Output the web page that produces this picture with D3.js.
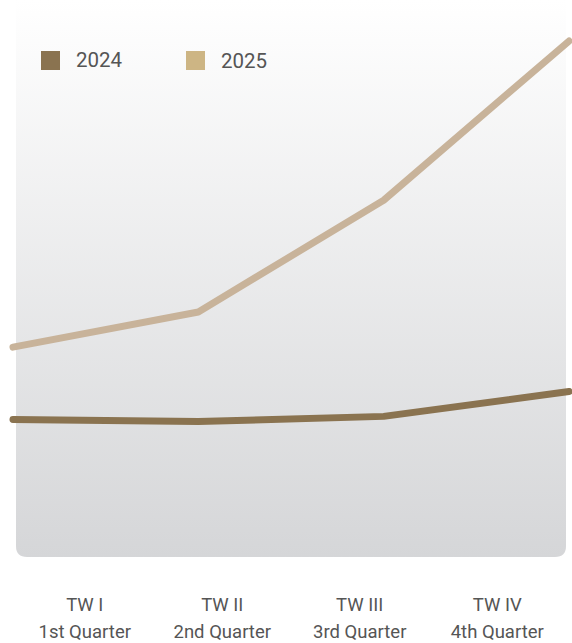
<!DOCTYPE html>
<html>
<head>
<meta charset="utf-8">
<script src="https://cdn.jsdelivr.net/npm/d3@7"></script>
<style>
  html, body { margin: 0; padding: 0; background: #fff; }
  svg { display: block; font-family: Roboto, "Noto Sans", sans-serif; }
</style>
</head>
<body>
<div class="canvas"></div>
<script>
const quarters = ['TW I', 'TW II', 'TW III', 'TW IV']
const quarterNames = ['1st Quarter', '2nd Quarter', '3rd Quarter', '4th Quarter']
const years = ['2024', '2025']
const values2024 = [133, 131, 136, 160]
const values2025 = [203, 237, 345, 499]
const colors = ['#8a7350', '#c8b39a']
const legendColors = ['#8a7350', '#cdb584']

const width = 572
const height = 643
const panel = {left: 16, right: 566, top: 0, bottom: 557}

const svg = d3.select('.canvas')
  .append('svg')
  .attr('width', width)
  .attr('height', height)

const defs = svg.append('defs')
const grad = defs.append('linearGradient')
  .attr('id', 'bg')
  .attr('x1', 0).attr('y1', 0).attr('x2', 0).attr('y2', 1)
grad.append('stop').attr('offset', '0%').attr('stop-color', '#ffffff')
grad.append('stop').attr('offset', '100%').attr('stop-color', '#d5d6d8')

// panel with rounded bottom corners
const r = 11
svg.append('path')
  .attr('fill', 'url(#bg)')
  .attr('d', `M${panel.left},${panel.top} H${panel.right} V${panel.bottom - r}
    Q${panel.right},${panel.bottom} ${panel.right - r},${panel.bottom}
    H${panel.left + r} Q${panel.left},${panel.bottom} ${panel.left},${panel.bottom - r} Z`)

const x = d3.scalePoint()
  .domain(quarters)
  .range([13, 569])

const y = d3.scaleLinear()
  .domain([0, 500])
  .range([557, 40])

const labelScale = d3.scaleBand()
  .domain(quarters)
  .range([panel.left, panel.right])

const line = d3.line()
  .x((d, i) => x(quarters[i]))
  .y(d => y(d))

const series = [values2024, values2025]
svg.selectAll('path.series')
  .data(series.slice().reverse())
  .enter().append('path')
  .attr('class', 'series')
  .attr('d', line)
  .attr('fill', 'none')
  .attr('stroke', (d, i) => colors[1 - i])
  .attr('stroke-width', 7)
  .attr('stroke-linecap', 'round')
  .attr('stroke-linejoin', 'round')

// legend
const legend = svg.append('g')
const legendX = [41, 186]
years.forEach((yr, i) => {
  legend.append('rect')
    .attr('x', legendX[i])
    .attr('y', 51)
    .attr('width', 19)
    .attr('height', 19)
    .attr('fill', legendColors[i])
  legend.append('text')
    .attr('x', legendX[i] + 35)
    .attr('y', 67 + i * 1)
    .attr('font-size', 20.5)
    .attr('fill', '#555')
    .text(yr)
})

// quarter labels
const labels = svg.append('g')
  .attr('text-anchor', 'middle')
  .attr('font-size', 18.5)
  .attr('fill', '#555')
quarters.forEach((q, i) => {
  const cx = labelScale(q) + labelScale.bandwidth() / 2
  labels.append('text').attr('x', cx).attr('y', 611).text(q)
  labels.append('text').attr('x', cx).attr('y', 638).text(quarterNames[i])
})
</script>
</body>
</html>
